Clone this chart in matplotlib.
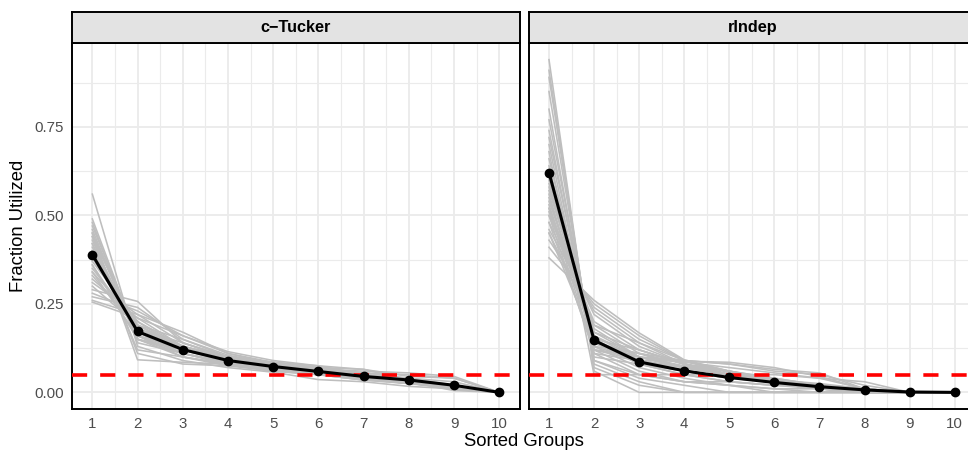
import matplotlib
matplotlib.use("Agg")
import matplotlib.pyplot as plt
import numpy as np

plt.rcParams['font.family'] = ['Liberation Sans', 'DejaVu Sans']

groups = [1, 2, 3, 4, 5, 6, 7, 8, 9, 10]
panel_titles = ["c\u2212Tucker", "rIndep"]
x_label = "Sorted Groups"
y_label = "Fraction Utilized"
threshold = 0.05
y_ticks = [0.00, 0.25, 0.50, 0.75]
y_tick_labels = ["0.00", "0.25", "0.50", "0.75"]

# mean (black) curves
ctucker_mean = [0.389, 0.172, 0.121, 0.090, 0.073, 0.059, 0.045, 0.035, 0.020, 0.0]
rindep_mean = [0.621, 0.147, 0.086, 0.061, 0.042, 0.028, 0.016, 0.007, 0.001, 0.0]

# individual replicate (grey) curves
ctucker_runs = [
    [0.560, 0.130, 0.090, 0.070, 0.057, 0.036, 0.030, 0.017, 0.010, 0.0],
    [0.490, 0.150, 0.100, 0.075, 0.060, 0.050, 0.035, 0.025, 0.015, 0.0],
    [0.480, 0.140, 0.110, 0.080, 0.065, 0.050, 0.035, 0.025, 0.015, 0.0],
    [0.470, 0.160, 0.100, 0.080, 0.060, 0.050, 0.035, 0.030, 0.015, 0.0],
    [0.460, 0.150, 0.110, 0.085, 0.065, 0.050, 0.040, 0.025, 0.015, 0.0],
    [0.450, 0.160, 0.110, 0.080, 0.065, 0.050, 0.040, 0.030, 0.015, 0.0],
    [0.440, 0.170, 0.110, 0.085, 0.065, 0.050, 0.040, 0.025, 0.015, 0.0],
    [0.430, 0.150, 0.120, 0.090, 0.070, 0.055, 0.040, 0.030, 0.015, 0.0],
    [0.420, 0.170, 0.120, 0.085, 0.070, 0.055, 0.040, 0.030, 0.010, 0.0],
    [0.410, 0.180, 0.120, 0.090, 0.070, 0.055, 0.040, 0.030, 0.015, 0.0],
    [0.400, 0.160, 0.130, 0.095, 0.075, 0.060, 0.040, 0.030, 0.010, 0.0],
    [0.400, 0.190, 0.120, 0.090, 0.070, 0.055, 0.040, 0.025, 0.010, 0.0],
    [0.390, 0.170, 0.120, 0.095, 0.075, 0.060, 0.045, 0.030, 0.015, 0.0],
    [0.380, 0.180, 0.130, 0.090, 0.075, 0.060, 0.045, 0.030, 0.010, 0.0],
    [0.370, 0.200, 0.120, 0.090, 0.075, 0.060, 0.045, 0.030, 0.010, 0.0],
    [0.360, 0.170, 0.130, 0.100, 0.080, 0.065, 0.045, 0.035, 0.015, 0.0],
    [0.350, 0.190, 0.130, 0.095, 0.080, 0.060, 0.045, 0.035, 0.015, 0.0],
    [0.340, 0.200, 0.130, 0.095, 0.075, 0.060, 0.050, 0.035, 0.015, 0.0],
    [0.330, 0.180, 0.140, 0.100, 0.080, 0.065, 0.050, 0.035, 0.020, 0.0],
    [0.320, 0.210, 0.130, 0.100, 0.080, 0.065, 0.050, 0.030, 0.015, 0.0],
    [0.310, 0.220, 0.140, 0.100, 0.080, 0.060, 0.045, 0.035, 0.010, 0.0],
    [0.300, 0.190, 0.150, 0.105, 0.080, 0.065, 0.050, 0.040, 0.020, 0.0],
    [0.290, 0.257, 0.140, 0.095, 0.075, 0.055, 0.045, 0.030, 0.013, 0.0],
    [0.280, 0.230, 0.160, 0.110, 0.080, 0.060, 0.045, 0.030, 0.005, 0.0],
    [0.270, 0.240, 0.150, 0.100, 0.080, 0.060, 0.050, 0.035, 0.015, 0.0],
    [0.260, 0.220, 0.170, 0.110, 0.085, 0.070, 0.045, 0.030, 0.015, 0.0],
    [0.255, 0.210, 0.160, 0.115, 0.090, 0.075, 0.050, 0.030, 0.015, 0.0],
    [0.450, 0.092, 0.085, 0.080, 0.075, 0.070, 0.065, 0.045, 0.040, 0.0],
    [0.420, 0.120, 0.100, 0.080, 0.070, 0.065, 0.055, 0.050, 0.040, 0.0],
    [0.360, 0.150, 0.120, 0.100, 0.085, 0.070, 0.055, 0.040, 0.030, 0.0],
    [0.440, 0.110, 0.080, 0.075, 0.070, 0.065, 0.060, 0.055, 0.045, 0.0],
    [0.340, 0.160, 0.120, 0.100, 0.085, 0.075, 0.065, 0.035, 0.020, 0.0],
]

rindep_runs = [
    [0.940, 0.060, 0.000, 0.000, 0.000, 0.000, 0.000, 0.000, 0.000, 0.0],
    [0.910, 0.070, 0.020, 0.000, 0.000, 0.000, 0.000, 0.000, 0.000, 0.0],
    [0.890, 0.080, 0.030, 0.000, 0.000, 0.000, 0.000, 0.000, 0.000, 0.0],
    [0.850, 0.090, 0.040, 0.020, 0.000, 0.000, 0.000, 0.000, 0.000, 0.0],
    [0.800, 0.090, 0.050, 0.030, 0.020, 0.010, 0.000, 0.000, 0.000, 0.0],
    [0.770, 0.120, 0.060, 0.030, 0.020, 0.000, 0.000, 0.000, 0.000, 0.0],
    [0.740, 0.110, 0.050, 0.030, 0.030, 0.020, 0.020, 0.000, 0.000, 0.0],
    [0.720, 0.130, 0.070, 0.040, 0.020, 0.010, 0.010, 0.000, 0.000, 0.0],
    [0.700, 0.100, 0.080, 0.050, 0.030, 0.020, 0.010, 0.010, 0.000, 0.0],
    [0.680, 0.050, 0.050, 0.050, 0.050, 0.050, 0.040, 0.030, 0.000, 0.0],
    [0.660, 0.140, 0.080, 0.050, 0.030, 0.020, 0.015, 0.005, 0.000, 0.0],
    [0.640, 0.120, 0.090, 0.060, 0.040, 0.030, 0.015, 0.005, 0.000, 0.0],
    [0.620, 0.150, 0.080, 0.060, 0.040, 0.030, 0.015, 0.005, 0.000, 0.0],
    [0.610, 0.130, 0.090, 0.070, 0.050, 0.030, 0.020, 0.010, 0.000, 0.0],
    [0.600, 0.160, 0.090, 0.060, 0.040, 0.030, 0.020, 0.000, 0.000, 0.0],
    [0.590, 0.140, 0.100, 0.070, 0.050, 0.030, 0.015, 0.005, 0.000, 0.0],
    [0.580, 0.150, 0.090, 0.070, 0.050, 0.035, 0.020, 0.005, 0.000, 0.0],
    [0.570, 0.170, 0.100, 0.070, 0.050, 0.030, 0.010, 0.000, 0.000, 0.0],
    [0.560, 0.130, 0.110, 0.080, 0.050, 0.035, 0.025, 0.010, 0.000, 0.0],
    [0.550, 0.160, 0.100, 0.075, 0.050, 0.035, 0.020, 0.010, 0.000, 0.0],
    [0.540, 0.180, 0.100, 0.070, 0.050, 0.035, 0.020, 0.005, 0.000, 0.0],
    [0.530, 0.150, 0.120, 0.080, 0.060, 0.035, 0.020, 0.005, 0.000, 0.0],
    [0.520, 0.190, 0.110, 0.070, 0.050, 0.035, 0.020, 0.005, 0.000, 0.0],
    [0.520, 0.120, 0.100, 0.085, 0.070, 0.055, 0.040, 0.010, 0.000, 0.0],
    [0.510, 0.170, 0.120, 0.080, 0.060, 0.040, 0.020, 0.000, 0.000, 0.0],
    [0.500, 0.200, 0.120, 0.080, 0.050, 0.030, 0.015, 0.005, 0.000, 0.0],
    [0.500, 0.110, 0.090, 0.088, 0.085, 0.070, 0.045, 0.010, 0.000, 0.0],
    [0.480, 0.220, 0.130, 0.080, 0.050, 0.030, 0.010, 0.000, 0.000, 0.0],
    [0.480, 0.120, 0.100, 0.090, 0.080, 0.065, 0.055, 0.010, 0.000, 0.0],
    [0.460, 0.230, 0.140, 0.080, 0.050, 0.025, 0.010, 0.005, 0.000, 0.0],
    [0.450, 0.190, 0.140, 0.090, 0.060, 0.040, 0.020, 0.010, 0.000, 0.0],
    [0.450, 0.140, 0.110, 0.090, 0.080, 0.060, 0.050, 0.020, 0.000, 0.0],
    [0.430, 0.240, 0.150, 0.090, 0.050, 0.030, 0.010, 0.000, 0.000, 0.0],
    [0.410, 0.250, 0.160, 0.090, 0.055, 0.025, 0.010, 0.000, 0.000, 0.0],
    [0.380, 0.260, 0.168, 0.092, 0.060, 0.030, 0.010, 0.000, 0.000, 0.0],
]

W, H = 968, 453
fig = plt.figure(figsize=(W / 100, H / 100), dpi=100)

panel_x = [(72, 519.6), (528.7, 975.0)]
panel_top, panel_bot = 43, 409
strip_top = 12

runs_list = [ctucker_runs, rindep_runs]
means_list = [ctucker_mean, rindep_mean]

ylim = (-0.0470, 0.987)
xlim = (0.55, 10.45)

for i, (x0, x1) in enumerate(panel_x):
    ax = fig.add_axes([x0 / W, 1 - panel_bot / H, (x1 - x0) / W, (panel_bot - panel_top) / H])
    ax.set_facecolor("white")
    ax.set_xlim(*xlim)
    ax.set_ylim(*ylim)
    # grid
    for v in groups:
        ax.axvline(v, color="#EBEBEB", lw=1.3, zorder=0)
    for v in np.arange(1.5, 10.5, 1.0):
        ax.axvline(v, color="#EBEBEB", lw=0.8, zorder=0)
    for v in y_ticks:
        ax.axhline(v, color="#EBEBEB", lw=1.3, zorder=0)
    for v in [0.125, 0.375, 0.625, 0.875]:
        ax.axhline(v, color="#EBEBEB", lw=0.8, zorder=0)

    for run in runs_list[i]:
        ax.plot(groups, run, color="#BEBEBE", lw=1.15, zorder=2, solid_joinstyle="round")
    ax.axhline(threshold, color="#FF0000", lw=2.6, dashes=(4.2, 3.6), zorder=3)
    ax.plot(groups, means_list[i], color="black", lw=2.2, marker="o", ms=6.0, zorder=4)

    ax.set_xticks(groups)
    ax.set_xticklabels([str(g) for g in groups])
    ax.tick_params(axis="both", length=0, labelsize=10.8, labelcolor="#4D4D4D", pad=6)
    ax.set_yticks(y_ticks)
    if i == 0:
        ax.set_yticklabels(y_tick_labels)
    else:
        ax.set_yticklabels([])
    for s in ax.spines.values():
        s.set_color("black")
        s.set_linewidth(1.4)

    sax = fig.add_axes([x0 / W, 1 - panel_top / H, (x1 - x0) / W, (panel_top - strip_top) / H])
    sax.set_facecolor("#E3E3E3")
    sax.set_xticks([])
    sax.set_yticks([])
    for s in sax.spines.values():
        s.set_color("black")
        s.set_linewidth(1.4)
    sax.text((519.6 - 72) / 2 / (x1 - x0), 0.5, panel_titles[i], transform=sax.transAxes,
             ha="center", va="center", fontsize=11.7, fontweight="bold", color="black")

fig.text(523.5 / W, 1 - 441 / H, x_label, ha="center", va="center", fontsize=13.3, color="black")
fig.text(19 / W, 1 - 226 / H, y_label, ha="center", va="center", rotation=90, fontsize=13.3, color="black")

fig.savefig("out.png", dpi=100)
